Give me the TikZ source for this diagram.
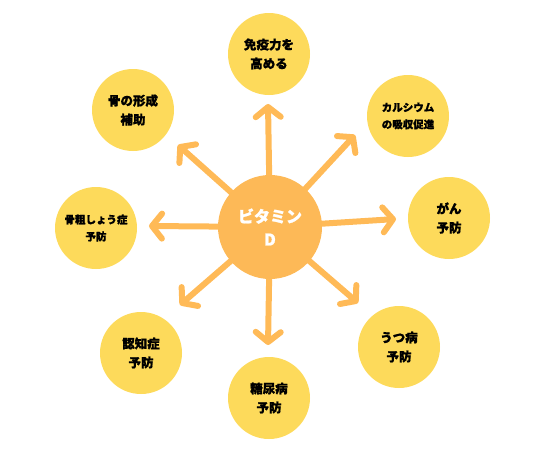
\documentclass[tikz,border=0pt]{standalone}
\usepackage{fontspec}
\setmainfont{Noto Sans CJK JP}[BoldFeatures={FakeBold=1.2}]
\usetikzlibrary{arrows.meta}
\definecolor{naranja}{HTML}{FDB957}
\definecolor{amarillo}{HTML}{FDDA5B}
\definecolor{flecha}{HTML}{FFBA57}
\begin{document}
\begin{tikzpicture}[x=1pt, y=-1pt,
		central/.style={circle, fill=naranja, minimum size=104pt, inner sep=0pt, align=center,
			text=white, font=\bfseries\fontsize{16}{23}\selectfont},
		efecto/.style={circle, fill=amarillo, minimum size=82pt, inner sep=0pt, align=center,
			font=\bfseries\fontsize{12.5}{19}\selectfont},
		efectochico/.style={efecto, font=\bfseries\fontsize{10.5}{17}\selectfont},
		flechita/.style={flecha, line width=6pt, line cap=round,
			-{Straight Barb[round, length=10pt, width=25pt]}}]
		% Marco
		\useasboundingbox (0,0) rectangle (540,453);
		
		% Efectos alrededor
		\node[efecto] (inmune) at (269,54) {免疫力を\\高める};
		\node[efectochico] (calcio) at (408,116) {カルシウム\\の吸収促進};
		\node[efecto] (cancer) at (449,218) {がん\\予防};
		\node[efecto] (depre) at (399,347) {うつ病\\予防};
		\node[efecto] (diabetes) at (269,398) {糖尿病\\予防};
		\node[efecto] (demencia) at (141,353) {認知症\\予防};
		\node[efectochico] (osteo) at (96,228) {骨粗しょう症\\予防};
		\node[efecto] (hueso) at (133,110) {骨の形成\\補助};
		
		% Puntas de las flechas
		\coordinate (p1) at (268,104);
		\coordinate (p2) at (355,135);
		\coordinate (p3) at (396,219);
		\coordinate (p4) at (358,303);
		\coordinate (p5) at (268,345);
		\coordinate (p6) at (180,305);
		\coordinate (p7) at (149,226);
		\coordinate (p8) at (178,145);
		
		% Flechas desde el centro
		\coordinate (c) at (270,227);
		\foreach \p in {p1,p2,p3,p4,p5,p6,p7,p8}
			\draw[flechita] (c) -- (\p);
		
		% Vitamina D
		\node[central] (vitd) at (c) {ビタミン\\D};
	\end{tikzpicture}
\end{document}
